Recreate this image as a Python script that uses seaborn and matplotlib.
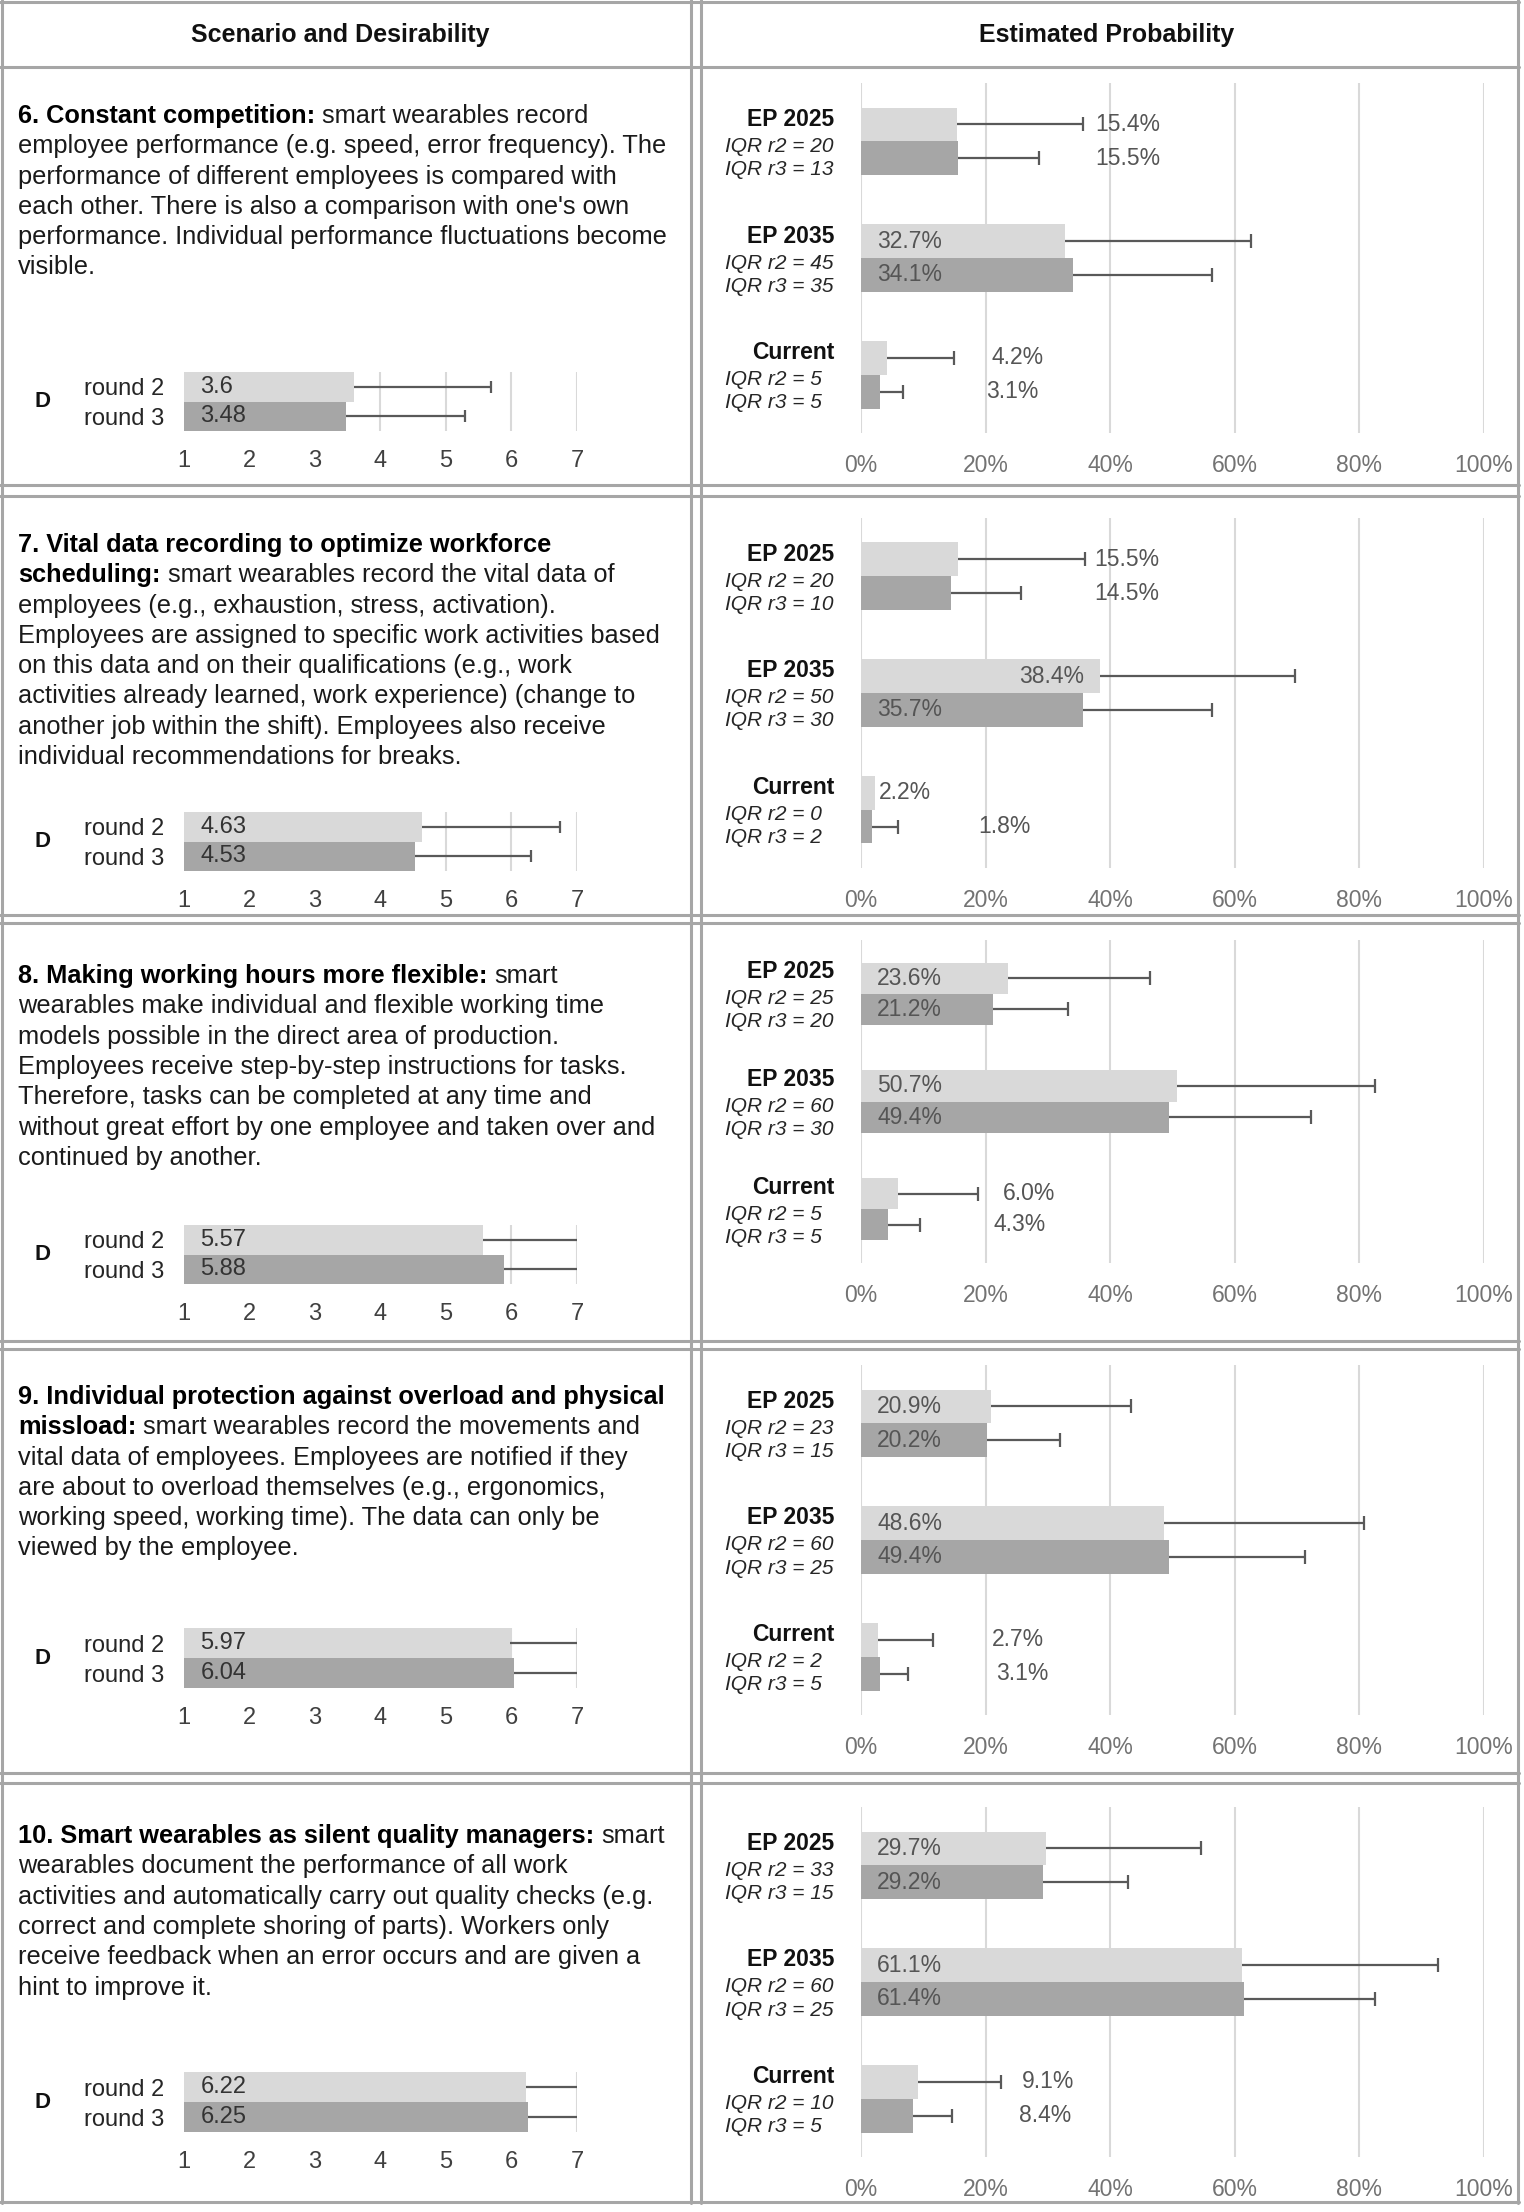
import matplotlib.pyplot as plt
import seaborn as sns
import pandas as pd
from matplotlib.lines import Line2D
from matplotlib.transforms import offset_copy

# ---- data ----
headers = ['Scenario and Desirability', 'Estimated Probability']

# each scenario: list of (bold part, regular part) per line
scenario_lines = [
    [('6. Constant competition:', 'smart wearables record'),
     ('', 'employee performance (e.g. speed, error frequency). The'),
     ('', 'performance of different employees is compared with'),
     ('', "each other. There is also a comparison with one's own"),
     ('', 'performance. Individual performance fluctuations become'),
     ('', 'visible.')],
    [('7. Vital data recording to optimize workforce', ''),
     ('scheduling:', 'smart wearables record the vital data of'),
     ('', 'employees (e.g., exhaustion, stress, activation).'),
     ('', 'Employees are assigned to specific work activities based'),
     ('', 'on this data and on their qualifications (e.g., work'),
     ('', 'activities already learned, work experience) (change to'),
     ('', 'another job within the shift). Employees also receive'),
     ('', 'individual recommendations for breaks.')],
    [('8. Making working hours more flexible:', 'smart'),
     ('', 'wearables make individual and flexible working time'),
     ('', 'models possible in the direct area of production.'),
     ('', 'Employees receive step-by-step instructions for tasks.'),
     ('', 'Therefore, tasks can be completed at any time and'),
     ('', 'without great effort by one employee and taken over and'),
     ('', 'continued by another.')],
    [('9. Individual protection against overload and physical', ''),
     ('missload:', 'smart wearables record the movements and'),
     ('', 'vital data of employees. Employees are notified if they'),
     ('', 'are about to overload themselves (e.g., ergonomics,'),
     ('', 'working speed, working time). The data can only be'),
     ('', 'viewed by the employee.')],
    [('10. Smart wearables as silent quality managers:', 'smart'),
     ('', 'wearables document the performance of all work'),
     ('', 'activities and automatically carry out quality checks (e.g.'),
     ('', 'correct and complete shoring of parts). Workers only'),
     ('', 'receive feedback when an error occurs and are given a'),
     ('', 'hint to improve it.')],
]

rounds = ['round 2', 'round 3']
d_round2 = [3.6, 4.63, 5.57, 5.97, 6.22]
d_round3 = [3.48, 4.53, 5.88, 6.04, 6.25]
d_err2 = [5.68, 6.74, 7.0, 7.0, 7.0]
d_err3 = [5.29, 6.30, 7.0, 7.0, 7.0]

categories = ['EP 2025', 'EP 2035', 'Current']
ep_r2 = [[15.4, 32.7, 4.2], [15.5, 38.4, 2.2], [23.6, 50.7, 6.0], [20.9, 48.6, 2.7], [29.7, 61.1, 9.1]]
ep_r3 = [[15.5, 34.1, 3.1], [14.5, 35.7, 1.8], [21.2, 49.4, 4.3], [20.2, 49.4, 3.1], [29.2, 61.4, 8.4]]
ep_err2 = [[35.6, 62.6, 14.9], [36.0, 69.6, 2.2], [46.4, 82.5, 18.7], [43.3, 80.8, 11.5], [54.6, 92.6, 22.4]]
ep_err3 = [[28.5, 56.4, 6.7], [25.7, 56.3, 5.9], [33.2, 72.2, 9.5], [32.0, 71.2, 7.5], [42.9, 82.5, 14.6]]
iqr_r2 = [[20, 45, 5], [20, 50, 0], [25, 60, 5], [23, 60, 2], [33, 60, 10]]
iqr_r3 = [[13, 35, 5], [10, 30, 2], [20, 30, 5], [15, 25, 5], [15, 25, 5]]

# ---- layout (pixels, from top) ----
W, H = 1524, 2212
text_baseline = [123, 552, 983, 1404, 1843]
line_step = 30.3
d_axes_y = [(372, 431), (812, 871), (1225, 1284), (1628, 1688), (2072, 2132)]
p_axes_y = [(83, 433), (518, 868), (940, 1263), (1365, 1715), (1807, 2157)]
# left edge of the value labels (in % units), order: 2025 r2, 2025 r3, 2035 r2, 2035 r3, cur r2, cur r3
label_x = [[37.6, 37.6, 2.6, 2.6, 20.9, 20.1],
           [37.5, 37.5, 25.3, 2.6, 2.8, 18.9],
           [2.6, 2.6, 2.6, 2.6, 22.7, 21.2],
           [2.6, 2.6, 2.6, 2.6, 21.0, 21.7],
           [2.6, 2.6, 2.6, 2.6, 25.9, 25.3]]

LIGHT, DARK = '#d9d9d9', '#a6a6a6'
ERR = '#595959'
GRID = '#d9d9d9'
BORDER = '#a6a6a6'

sns.set_theme(style='white')
plt.rcParams['font.family'] = ['Liberation Sans', 'DejaVu Sans']

fig = plt.figure(figsize=(W / 100, H / 100), dpi=100)
renderer = fig.canvas.get_renderer()


def fx(x):
    return x / W


def fy(y):
    return 1 - y / H


def add_ax(x0, y0, x1, y1):
    return fig.add_axes([fx(x0), fy(y1), (x1 - x0) / W, (y1 - y0) / H])


# table borders
for x in [2, 691, 701, 1518]:
    fig.add_artist(Line2D([fx(x), fx(x)], [fy(0), fy(2203)], color=BORDER, lw=2.2))
for y in [1.5, 67, 485, 496, 915, 923, 1341, 1349, 1773, 1783, 2202]:
    fig.add_artist(Line2D([fx(0), fx(1519)], [fy(y), fy(y)], color=BORDER, lw=2.2))

fig.text(fx(340), fy(35), headers[0], ha='center', va='center', fontsize=18, weight='bold', color='#111111')
fig.text(fx(1107), fy(35), headers[1], ha='center', va='center', fontsize=18, weight='bold', color='#111111')

# scenario texts
for i, lines in enumerate(scenario_lines):
    for k, (bold, reg) in enumerate(lines):
        yb = fy(text_baseline[i] + k * line_step)
        x = fx(18)
        if bold:
            t = fig.text(x, yb, bold, fontsize=18.3, weight='bold', va='baseline', ha='left', color='#000000')
            bb = t.get_window_extent(renderer)
            x = (bb.x1 + 7) / W
        if reg:
            fig.text(x, yb, reg, fontsize=18.3, va='baseline', ha='left', color='#1a1a1a')

# desirability charts
for i in range(5):
    y0, y1 = d_axes_y[i]
    ax = add_ax(184, y0, 577, y1)
    df = pd.DataFrame({'round': rounds, 'value': [d_round2[i], d_round3[i]]})
    sns.barplot(data=df, x='value', y='round', hue='round', palette=[LIGHT, DARK],
                width=1.0, saturation=1, legend=False, linewidth=0, ax=ax)
    ax.set_xlim(1, 7)
    ax.set_ylim(1.5, -0.5)
    ax.set_xticks(range(1, 8))
    ax.grid(axis='x', color=GRID, lw=1.5)
    ax.grid(axis='y', visible=False)
    ax.set_axisbelow(True)
    for s in ax.spines.values():
        s.set_visible(False)
    ax.set_xlabel('')
    ax.set_ylabel('')
    ax.tick_params(axis='x', length=0, labelsize=17, labelcolor='#404040', pad=14)
    ax.tick_params(axis='y', length=0, labelsize=17, labelcolor='#262626', pad=14)
    vals = [d_round2[i], d_round3[i]]
    ends = [d_err2[i], d_err3[i]]
    for k, (v, e) in enumerate(zip(vals, ends)):
        ax.hlines(k, v, e, color=ERR, lw=1.6, zorder=4)
        if e < 7:
            ax.plot([e], [k], marker='|', ms=9, mew=1.6, color=ERR, zorder=4)
        ax.text(1.25, k, f'{v:g}', ha='left', va='center', fontsize=17, color='#333333', zorder=5)
    ax.text(-0.361, 0.5, 'D', transform=ax.transAxes, ha='center', va='center',
            fontsize=16, weight='bold', color='#111111')

# probability charts
for i in range(5):
    y0, y1 = p_axes_y[i]
    ax = add_ax(861, y0, 1484, y1)
    df = pd.DataFrame({'cat': categories * 2,
                       'round': ['r2'] * 3 + ['r3'] * 3,
                       'value': ep_r2[i] + ep_r3[i]})
    sns.barplot(data=df, x='value', y='cat', hue='round', palette=[LIGHT, DARK],
                width=0.58, saturation=1, legend=False, linewidth=0, ax=ax)
    ax.set_xlim(0, 100)
    ax.set_ylim(2.5, -0.5)
    ax.set_xticks(range(0, 101, 20))
    ax.set_xticklabels([f'{t}%' for t in range(0, 101, 20)])
    ax.set_yticks([])
    ax.grid(axis='x', color=GRID, lw=1.5)
    ax.grid(axis='y', visible=False)
    ax.set_axisbelow(True)
    for s in ax.spines.values():
        s.set_visible(False)
    ax.set_xlabel('')
    ax.set_ylabel('')
    ax.tick_params(axis='x', length=0, labelsize=16.5, labelcolor='#737373', pad=15)

    ends = [ep_err2[i], ep_err3[i]]
    vals = [ep_r2[i], ep_r3[i]]
    for h, cont in enumerate(ax.containers[:2]):
        for j, bar in enumerate(cont):
            yc = bar.get_y() + bar.get_height() / 2
            v, e = vals[h][j], ends[h][j]
            if e > v:
                ax.hlines(yc, v, e, color=ERR, lw=1.6, zorder=4)
                ax.plot([e], [yc], marker='|', ms=9.5, mew=1.6, color=ERR, zorder=4)
            ax.text(label_x[i][2 * j + h], yc, f'{v:.1f}%', ha='left', va='center',
                    fontsize=16.5, color='#555555', zorder=5)

    ytr = ax.get_yaxis_transform()
    for j, cat in enumerate(categories):
        ax.text(-0.0433, j, cat, transform=offset_copy(ytr, fig, y=22, units='dots'),
                ha='right', va='center', fontsize=16.5, weight='bold', color='#111111')
        ax.text(-0.218, j, f'IQR r2 = {iqr_r2[i][j]}', transform=offset_copy(ytr, fig, y=-5, units='dots'),
                ha='left', va='center', fontsize=15, style='italic', color='#262626')
        ax.text(-0.218, j, f'IQR r3 = {iqr_r3[i][j]}', transform=offset_copy(ytr, fig, y=-28, units='dots'),
                ha='left', va='center', fontsize=15, style='italic', color='#262626')

fig.savefig('out.png', dpi=100)
